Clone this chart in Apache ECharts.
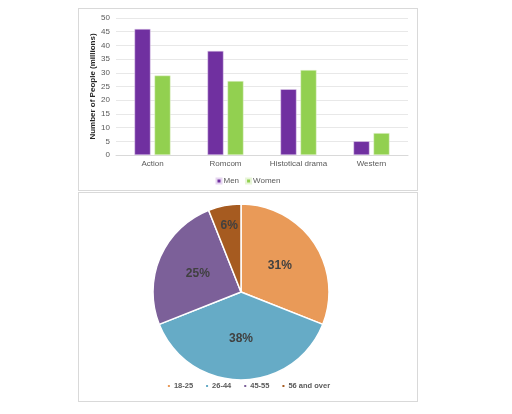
<!DOCTYPE html>
<html>
<head>
<meta charset="utf-8">
<script src="https://cdn.jsdelivr.net/npm/echarts@6/dist/echarts.min.js"></script>
<style>
  body { margin:0; background:#fff; }
  .panel { position:absolute; left:78px; width:340px; border:1px solid #d9d9d9; box-sizing:border-box; background:#fff; }
  #bar { top:8px; height:183px; }
  #pie { top:192px; height:210px; }
</style>
</head>
<body>
<div id="bar" class="panel"></div>
<div id="pie" class="panel"></div>
<script>
var genres = ['Action', 'Romcom', 'Histotical drama', 'Western'];
var men = [46, 38, 24, 5];
var women = [29, 27, 31, 8];
var ageGroups = ['18-25', '26-44', '45-55', '56 and over'];
var agePct = [31, 38, 25, 6];

var font = 'Liberation Sans, Arial, sans-serif';

var barChart = echarts.init(document.getElementById('bar'));
barChart.setOption({
    animation: false,
    textStyle: { fontFamily: font },
    legend: {
        bottom: 0,
        left: 'center',
        icon: 'rect',
        itemWidth: 5,
        itemHeight: 5,
        itemGap: 6,
        textStyle: { fontSize: 8, color: '#595959', padding: [0, 0, 0, -3] },
        data: ['Men', 'Women']
    },
    grid: { left: 37, right: 9, top: 9, bottom: 35, containLabel: false, outerBoundsMode: 'none' },
    xAxis: {
        type: 'category',
        data: genres,
        axisLine: { lineStyle: { color: '#d9d9d9' } },
        axisTick: { show: false },
        axisLabel: { color: '#595959', fontSize: 8, margin: 5, interval: 0 }
    },
    yAxis: {
        type: 'value',
        min: 0,
        max: 50,
        interval: 5,
        name: 'Number of People (millions)',
        nameLocation: 'middle',
        nameGap: 19,
        nameMoveOverlap: false,
        nameTextStyle: { fontSize: 8, fontWeight: 'bold', color: '#262626' },
        axisLabel: { color: '#595959', fontSize: 8, margin: 6 },
        splitLine: { lineStyle: { color: '#e8e8e8' } }
    },
    series: [
        {
            name: 'Men', type: 'bar', data: men,
            barWidth: 16, barGap: '25%',
            itemStyle: { color: '#7030a0', borderColor: '#e6d6f0', borderWidth: 0.5 }
        },
        {
            name: 'Women', type: 'bar', data: women,
            barWidth: 16,
            itemStyle: { color: '#92d050', borderColor: '#e8f5d8', borderWidth: 0.5 }
        }
    ]
});

var pieData = ageGroups.map(function (g, i) { return { name: g, value: agePct[i] }; });

var pieChart = echarts.init(document.getElementById('pie'));
pieChart.setOption({
    animation: false,
    textStyle: { fontFamily: font },
    color: ['#e99a58', '#66abc6', '#7c6099', '#a65b20'],
    legend: {
        top: 184,
        left: 'center',
        icon: 'rect',
        itemWidth: 4,
        itemHeight: 4,
        itemGap: 11,
        textStyle: { fontSize: 7.5, fontWeight: 'bold', color: '#595959', padding: [0, 0, 0, -2] },
        data: ageGroups
    },
    series: [{
        type: 'pie',
        center: [162, 99],
        radius: 88,
        startAngle: 90,
        clockwise: true,
        itemStyle: { borderColor: '#fff', borderWidth: 1.5 },
        label: {
            show: true,
            position: 'inside',
            formatter: '{c}%',
            fontSize: 12,
            fontWeight: 'bold',
            color: '#404040'
        },
        labelLayout: function (p) {
            // small slice label sits further out, as in the original
            if (p.dataIndex === 3) return { dx: -3, dy: -20 };
            return {};
        },
        data: pieData
    }]
});
</script>
</body>
</html>
